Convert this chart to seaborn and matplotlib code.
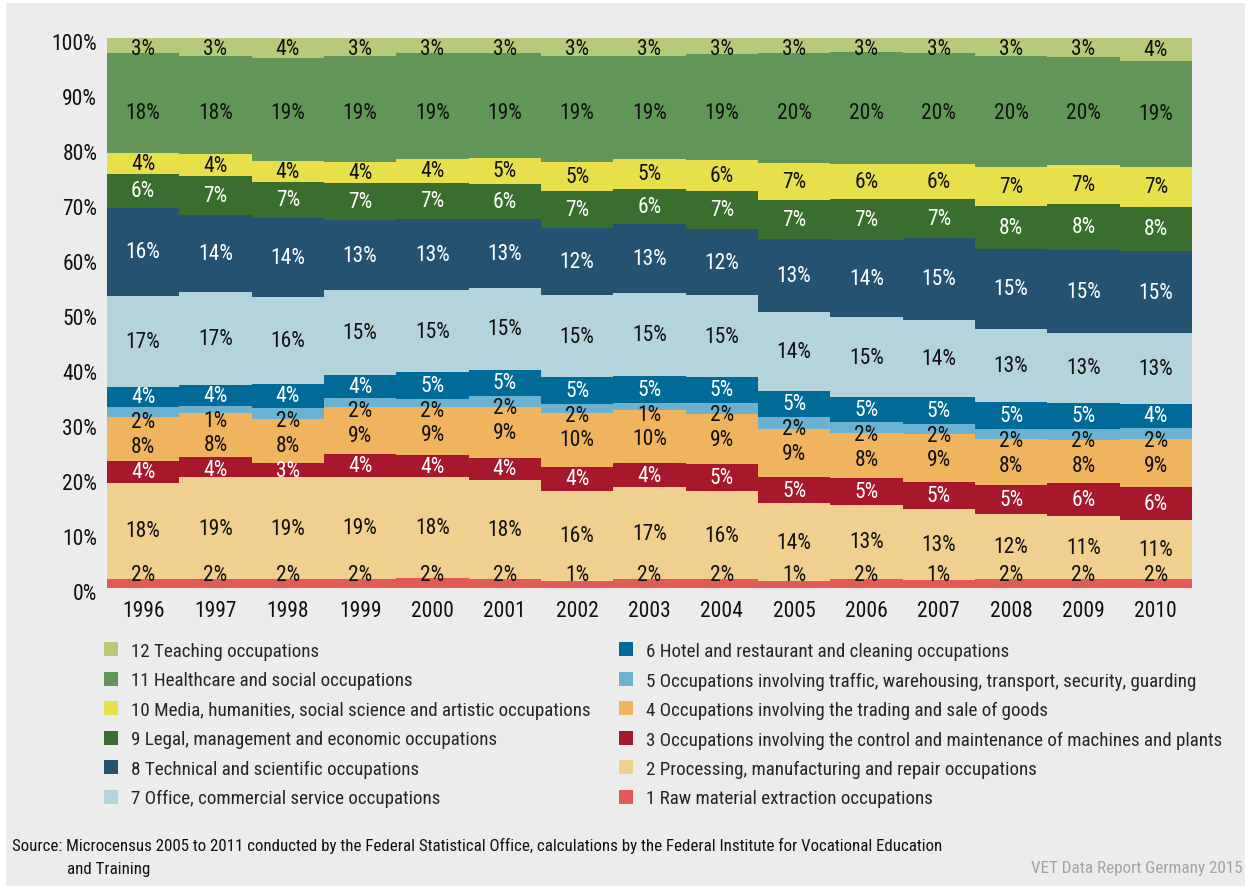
import numpy as np
import pandas as pd
import matplotlib
matplotlib.use("Agg")
import matplotlib.pyplot as plt
from matplotlib.patches import Patch, Rectangle
from matplotlib.transforms import ScaledTranslation
from matplotlib import font_manager
import seaborn as sns

# ---------------- data ----------------
years = [1996, 1997, 1998, 1999, 2000, 2001, 2002, 2003, 2004, 2005, 2006, 2007, 2008, 2009, 2010]

categories = [
    "1 Raw material extraction occupations",
    "2 Processing, manufacturing and repair occupations",
    "3 Occupations involving the control and maintenance of machines and plants",
    "4 Occupations involving the trading and sale of goods",
    "5 Occupations involving traffic, warehousing, transport, security, guarding",
    "6 Hotel and restaurant and cleaning occupations",
    "7 Office, commercial service occupations",
    "8 Technical and scientific occupations",
    "9 Legal, management and economic occupations",
    "10 Media, humanities, social science and artistic occupations",
    "11 Healthcare and social occupations",
    "12 Teaching occupations",
]

raw_material = [1.55, 1.55, 1.55, 1.55, 1.75, 1.55, 1.2, 1.6, 1.55, 1.2, 1.6, 1.4, 1.55, 1.6, 1.6]
processing = [17.55, 18.55, 18.55, 18.6, 18.35, 18.1, 16.4, 16.6, 15.95, 14.1, 13.45, 12.8, 11.75, 11.45, 10.75]
control = [3.9, 3.7, 2.6, 4.15, 4.0, 3.95, 4.35, 4.4, 5.0, 4.85, 4.9, 5.0, 5.35, 6.0, 5.95]
trading = [8.1, 8.0, 8.0, 8.55, 8.7, 9.3, 9.85, 9.7, 9.1, 8.7, 8.15, 8.75, 8.4, 7.85, 8.75]
traffic = [1.8, 1.25, 2.0, 1.7, 1.55, 2.0, 1.6, 1.3, 2.0, 2.2, 1.95, 1.85, 1.75, 1.95, 2.0]
hotel = [3.6, 3.85, 4.35, 4.15, 4.9, 4.7, 4.95, 4.9, 4.75, 4.75, 4.55, 4.9, 4.95, 4.75, 4.35]
office = [16.6, 16.9, 15.9, 15.4, 14.8, 14.95, 14.8, 15.1, 14.8, 14.4, 14.65, 14.0, 13.3, 12.75, 12.85]
technical = [16.0, 14.05, 14.35, 12.8, 13.05, 12.55, 12.35, 12.6, 12.15, 13.3, 14.05, 14.95, 14.6, 15.1, 15.05]
legal = [6.2, 6.95, 6.55, 6.75, 6.6, 6.4, 6.7, 6.4, 6.9, 7.1, 7.45, 7.1, 7.85, 8.35, 8.0]
media = [3.8, 4.15, 3.85, 3.85, 4.2, 4.75, 5.3, 5.4, 5.65, 6.7, 6.4, 6.4, 7.1, 7.1, 7.3]
healthcare = [18.1, 17.7, 18.75, 19.15, 19.3, 18.95, 19.3, 18.8, 19.3, 20.05, 20.3, 20.2, 20.2, 19.65, 19.3]
teaching = [2.8, 3.35, 3.55, 3.35, 2.8, 2.8, 3.2, 3.2, 2.85, 2.65, 2.55, 2.65, 3.2, 3.45, 4.1]

y_ticks = [0, 10, 20, 30, 40, 50, 60, 70, 80, 90, 100]
y_tick_labels = ["0%", "10%", "20%", "30%", "40%", "50%", "60%", "70%", "80%", "90%", "100%"]

source_line1 = ("Source: Microcensus 2005 to 2011 conducted by the Federal Statistical Office, "
                "calculations by the Federal Institute for Vocational Education")
source_line2 = "and Training"
credit = "VET Data Report Germany 2015"

# ---------------- styles ----------------
colors = ["#E15A55", "#F0D08E", "#A8182D", "#F0B35E", "#6BB1D0", "#006A99",
          "#B5D3DB", "#245270", "#3A6E2F", "#E8E04B", "#629659", "#B8C97A"]
text_colors = ["#111111", "#111111", "white", "#111111", "#111111", "white",
               "#111111", "white", "white", "#111111", "#111111", "#111111"]
BG = "#ECECEC"

sns.set_style("white")
names = {f.name for f in font_manager.fontManager.ttflist}
family = "DejaVu Sans"
for cand in ["Roboto Condensed", "Liberation Sans Narrow", "Open Sans Condensed", "Liberation Sans"]:
    if cand in names:
        family = cand
        break
plt.rcParams["font.family"] = [family, "DejaVu Sans"]

series = [raw_material, processing, control, trading, traffic, hotel,
          office, technical, legal, media, healthcare, teaching]

df = pd.DataFrame({
    "year": np.repeat([str(y) for y in years], len(categories)),
    "category": categories * len(years),
    "value": [series[k][i] for i in range(len(years)) for k in range(len(categories))],
})
df["cat_idx"] = df["category"].map({c: i for i, c in enumerate(categories)})
df = df.sort_values(["year", "cat_idx"])
df["top"] = df.groupby("year")["value"].cumsum()
df["bottom"] = df["top"] - df["value"]

W, H = 1245, 887
fig = plt.figure(figsize=(W / 100, H / 100), dpi=100, facecolor="white")
fig.patches.append(Rectangle((6 / W, 0), 1, 1 - 4 / H, transform=fig.transFigure,
                             facecolor=BG, edgecolor="none", zorder=-10))
ax = fig.add_axes([107 / W, 1 - 588.5 / H, (1192 - 107) / W, (588.5 - 39) / H])
ax.set_facecolor(BG)

order = [str(y) for y in years]
for k in reversed(range(len(categories))):
    sub = df[df["cat_idx"] == k]
    sns.barplot(data=sub, x="year", y="top", order=order, color=colors[k],
                width=1.0, saturation=1, linewidth=0, edgecolor="none",
                antialiased=False, ax=ax, errorbar=None)

# value labels (centred, nudged apart where segments are thin)
gaps = [4.5] * 10 + [11.5]
for i, yr in enumerate(order):
    sub = df[df["year"] == yr].sort_values("cat_idx")
    centers = ((sub["bottom"] + sub["top"]) / 2).to_numpy()
    vals = sub["value"].to_numpy()
    pos = centers.copy()
    pos[-1] = min(pos[-1], 98.0)
    for j in range(len(pos) - 2, -1, -1):
        pos[j] = min(pos[j], pos[j + 1] - gaps[j])
    pos[0] = max(pos[0], 2.45)
    for j in range(len(pos)):
        ax.text(i, pos[j], f"{int(np.floor(vals[j] + 0.5))}%", ha="center", va="center",
                color=text_colors[j], fontsize=15.5)

ax.set_xlim(-0.5, len(years) - 0.5)
ax.set_ylim(0, 100)
ax.set_yticks(y_ticks)
ax.set_yticklabels(y_tick_labels)
ax.set_xlabel("")
ax.set_ylabel("")
ax.tick_params(axis="both", length=0, labelsize=15.5, colors="#111111")
ax.tick_params(axis="y", pad=7)
ax.tick_params(axis="x", pad=9)
shift = ScaledTranslation(0, -3.5 / 100, fig.dpi_scale_trans)
for lab in ax.get_yticklabels():
    lab.set_transform(lab.get_transform() + shift)
for s in ax.spines.values():
    s.set_visible(False)

handles = [Patch(facecolor=colors[k], edgecolor="none", label=categories[k])
           for k in reversed(range(len(categories)))]
leg_kw = dict(frameon=False, fontsize=13.7, handlelength=0.75, handleheight=0.75,
              handletextpad=0.65, labelspacing=0.6, borderpad=0, borderaxespad=0,
              loc="upper left")
fig.legend(handles=handles[:6], bbox_to_anchor=(104 / W, 1 - 643 / H), **leg_kw)
fig.legend(handles=handles[6:], bbox_to_anchor=(619 / W, 1 - 643 / H), **leg_kw)

fig.text(12 / W, 1 - 846 / H, source_line1, va="center", ha="left", fontsize=12.2, color="#111111")
fig.text(67 / W, 1 - 870 / H, source_line2, va="center", ha="left", fontsize=12.2, color="#111111")
fig.text(1243 / W, 1 - 869 / H, credit, va="center", ha="right", fontsize=12.3, color="#A3A3A3")

fig.savefig("out.png", dpi=100, facecolor="white")
